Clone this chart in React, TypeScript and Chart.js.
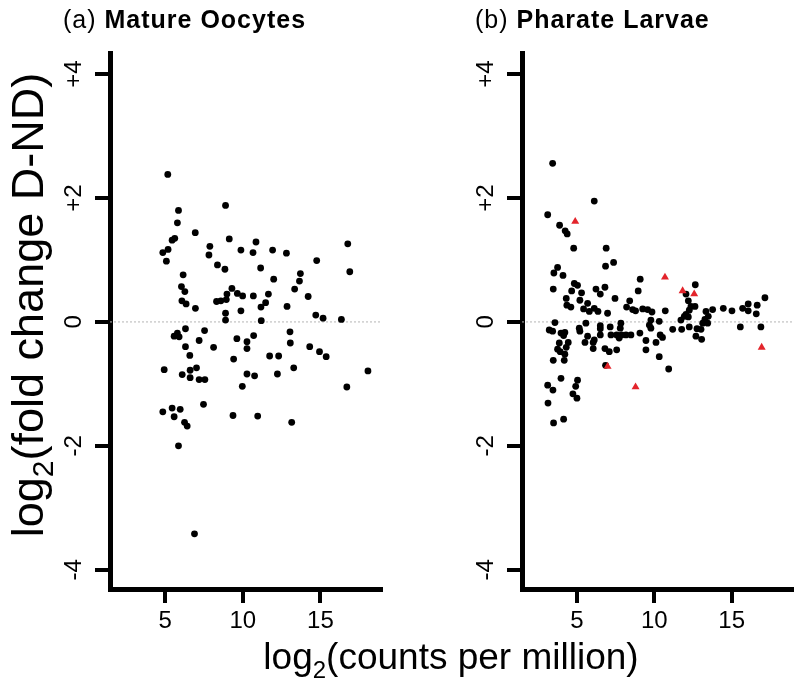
import React, { useEffect, useRef } from "react";
import { Chart, registerables } from "chart.js";

Chart.register(...registerables);

const FONT = "'Liberation Sans', Arial, Helvetica, sans-serif";

const xRange = [1.45, 18.9];
const yRange = [-4.31, 4.34];
const xTickValues = [5, 10, 15];
const yTickValues = [-4, -2, 0, 2, 4];
const yTickLabels = ["-4", "-2", "0", "+2", "+4"];

// (a) Mature Oocytes: [log2 CPM, log2 fold change]
const oocytePoints: [number, number][] = [
  [5.17, 2.38], [8.89, 1.88], [5.86, 1.8], [5.79, 1.6], [6.94, 1.44], [5.45, 1.32],
  [5.62, 1.35], [9.13, 1.34], [10.85, 1.29], [16.76, 1.26], [4.85, 1.12], [5.19, 1.17],
  [5.08, 0.98], [7.88, 1.22], [7.82, 1.08], [9.88, 1.16], [10.66, 1.12], [11.92, 1.16],
  [12.81, 1.11], [14.76, 0.99], [16.89, 0.81], [8.37, 0.92], [8.85, 0.85], [11.15, 0.87],
  [6.16, 0.76], [13.71, 0.78], [11.99, 0.69], [13.65, 0.66], [6.05, 0.57], [6.27, 0.49],
  [9.3, 0.54], [13.34, 0.53], [8.98, 0.45], [9.65, 0.46], [9.99, 0.42], [10.68, 0.42],
  [11.65, 0.45], [14.21, 0.41], [6.08, 0.34], [6.35, 0.29], [8.31, 0.33], [8.59, 0.34],
  [8.94, 0.36], [6.95, 0.22], [11.47, 0.31], [11.17, 0.24], [12.85, 0.25], [9.88, 0.18],
  [8.89, 0.14], [8.89, 0.03], [11.19, 0.02], [14.7, 0.11], [15.17, 0.06], [16.35, 0.04],
  [6.31, -0.11], [7.54, -0.14], [5.58, -0.23], [5.79, -0.18], [5.9, -0.24], [7.19, -0.3],
  [9.62, -0.27], [10.27, -0.32], [10.7, -0.22], [13.04, -0.16], [13.06, -0.34], [6.31, -0.4],
  [8.12, -0.41], [10.27, -0.43], [14.31, -0.4], [14.94, -0.48], [15.37, -0.56], [6.59, -0.54],
  [11.73, -0.55], [12.31, -0.55], [9.41, -0.6], [4.94, -0.77], [6.61, -0.78], [7.02, -0.74],
  [6.1, -0.85], [6.61, -0.9], [7.19, -0.93], [7.56, -0.93], [10.27, -0.84], [10.76, -0.87],
  [12.23, -0.84], [13.28, -0.74], [18.06, -0.79], [9.97, -1.04], [16.7, -1.05], [7.47, -1.33],
  [4.85, -1.45], [5.45, -1.39], [5.97, -1.41], [5.58, -1.53], [6.25, -1.62], [6.42, -1.68],
  [9.37, -1.51], [10.96, -1.52], [13.15, -1.62], [5.86, -2.0], [6.89, -3.42],
];

// (b) Pharate Larvae: black points
const larvaePoints: [number, number][] = [
  [3.43, 2.56], [6.12, 1.95], [3.11, 1.73], [3.88, 1.56], [4.24, 1.47], [4.37, 1.42],
  [4.79, 1.19], [6.89, 1.19], [6.85, 0.9], [3.75, 0.88], [3.51, 0.79], [4.1, 0.75],
  [3.47, 0.53], [4.83, 0.62], [5.04, 0.59], [4.66, 0.5], [5.3, 0.47], [6.23, 0.53],
  [6.51, 0.45], [6.81, 0.56], [4.31, 0.38], [5.19, 0.35], [5.69, 0.3], [4.35, 0.27],
  [4.61, 0.24], [5.43, 0.21], [5.8, 0.17], [6.12, 0.22], [6.36, 0.17], [6.98, 0.14],
  [3.58, -0.01], [5.58, -0.02], [3.21, -0.13], [3.43, -0.15], [3.97, -0.18], [4.22, -0.17],
  [4.14, -0.22], [5.15, -0.1], [5.19, -0.15], [5.69, -0.23], [6.51, -0.06], [6.51, -0.21],
  [6.12, -0.29], [6.05, -0.33], [5.52, -0.33], [6.05, -0.43], [6.81, -0.43], [7.09, -0.48],
  [4.44, -0.33], [3.86, -0.34], [3.75, -0.44], [4.31, -0.41], [3.92, -0.48], [4.22, -0.52],
  [4.18, -0.62], [3.47, -0.62], [6.85, -0.7], [3.97, -0.91], [3.11, -1.02], [3.45, -1.1],
  [5.04, -0.94], [4.92, -1.04], [4.74, -1.16], [5.0, -1.23], [3.13, -1.31], [3.49, -1.63],
  [4.14, -1.57], [6.51, -0.11],
  [7.37, 0.96], [9.09, 0.69], [8.96, 0.5], [12.65, 0.6], [12.05, 0.45], [12.2, 0.34],
  [7.46, 0.38], [8.41, 0.34], [8.21, 0.24], [8.6, 0.2], [8.79, 0.18], [9.25, 0.21],
  [9.57, 0.2], [9.85, 0.16], [10.71, 0.18], [12.37, 0.25], [12.63, 0.25], [12.26, 0.19],
  [12.05, 0.12], [11.94, 0.09], [11.72, 0.03], [12.2, 0.08], [13.34, 0.17], [13.49, 0.09],
  [13.77, 0.2], [13.27, 0.04], [13.13, -0.02], [13.45, -0.02], [14.46, 0.22], [15.02, 0.18],
  [15.71, 0.22], [16.07, 0.29], [16.07, 0.18], [16.65, 0.27], [16.59, 0.13], [17.15, 0.39],
  [15.56, -0.08], [16.89, -0.08], [11.19, -0.12], [11.77, -0.12], [12.26, -0.08], [12.76, -0.11],
  [13.02, -0.12], [12.69, -0.23], [13.06, -0.28], [10.32, 0.01], [9.78, 0.03], [9.68, -0.05],
  [9.78, -0.1], [9.07, -0.18], [10.38, -0.21], [10.53, -0.25], [9.46, -0.3], [10.11, -0.33],
  [9.46, -0.45], [10.32, -0.56], [10.93, -0.76], [7.84, -0.02], [7.8, -0.1], [7.15, -0.08],
  [7.2, -0.21], [7.57, -0.21], [7.89, -0.21], [8.17, -0.21], [8.49, -0.21], [7.73, -0.26],
  [7.57, -0.45],
];

// (b) Pharate Larvae: highlighted (red triangles)
const larvaeHighlighted: [number, number][] = [
  [4.89, 1.62], [6.98, -0.72], [10.69, 0.72], [11.83, 0.5], [12.58, 0.45], [8.79, -1.05], [16.94, -0.41],
];

type PanelProps = {
  tag: string;
  name: string;
  points: [number, number][];
  highlighted: [number, number][];
  left: number;
  axisLeft: number;
  padRight: number;
  showYTitle: boolean;
};

function Panel({ tag, name, points, highlighted, left, axisLeft, padRight, showYTitle }: PanelProps) {
  const ref = useRef<HTMLCanvasElement>(null);

  useEffect(() => {
    const canvas = ref.current;
    if (!canvas) return;

    const textPlugin = {
      id: "panelText",
      afterDraw(chart: any) {
        const { ctx, chartArea, scales } = chart;
        const ys = scales.y;
        ctx.save();
        ctx.fillStyle = "#000";
        // rotated y tick labels
        ctx.font = `24px ${FONT}`;
        yTickValues.forEach((v, i) => {
          const py = ys.getPixelForValue(v);
          ctx.save();
          ctx.translate(chartArea.left - 29, py);
          ctx.rotate(-Math.PI / 2);
          ctx.textAlign = "center";
          ctx.textBaseline = "alphabetic";
          ctx.fillText(yTickLabels[i], 0, 0);
          ctx.restore();
        });
        // panel title
        ctx.textAlign = "left";
        ctx.textBaseline = "alphabetic";
        try {
          (ctx as any).letterSpacing = "1px";
        } catch (e) {}
        const tx = chartArea.left - 47;
        ctx.font = `25px ${FONT}`;
        const pre = tag + " ";
        ctx.fillText(pre, tx, 28);
        const w = ctx.measureText(pre).width;
        ctx.font = `bold 25px ${FONT}`;
        ctx.fillText(name, tx + w, 28);
        try {
          (ctx as any).letterSpacing = "0px";
        } catch (e) {}
        // y axis title
        if (showYTitle) {
          const big = `45px ${FONT}`;
          const small = `30px ${FONT}`;
          const a = "log";
          const b = "2";
          const c = "(fold change D-ND)";
          ctx.font = big;
          const wa = ctx.measureText(a).width;
          const wc = ctx.measureText(c).width;
          ctx.font = small;
          const wb = ctx.measureText(b).width;
          const total = wa + wb + wc;
          ctx.save();
          ctx.translate(43, 305);
          ctx.rotate(-Math.PI / 2);
          let x0 = -total / 2;
          ctx.font = big;
          ctx.fillText(a, x0, 0);
          x0 += wa;
          ctx.font = small;
          ctx.fillText(b, x0, 10);
          x0 += wb;
          ctx.font = big;
          ctx.fillText(c, x0, 0);
          ctx.restore();
        }
        ctx.restore();
      },
    };

    const chart = new Chart(canvas, {
      type: "scatter",
      data: {
        datasets: [
          {
            label: "highlighted",
            data: highlighted.map(([x, y]) => ({ x, y })),
            pointStyle: "triangle",
            pointRadius: 4.6,
            backgroundColor: "#e3242b",
            borderWidth: 0,
            order: 1,
          },
          {
            label: "genes",
            data: points.map(([x, y]) => ({ x, y })),
            pointStyle: "circle",
            pointRadius: 3.4,
            backgroundColor: "#000000",
            borderWidth: 0,
            order: 2,
          },
          {
            type: "line",
            label: "zero",
            data: [
              { x: xRange[0], y: 0 },
              { x: xRange[1], y: 0 },
            ],
            borderColor: "#b4b4b4",
            borderWidth: 1,
            borderDash: [2, 2],
            pointRadius: 0,
            order: 3,
          } as any,
        ],
      },
      options: {
        responsive: false,
        animation: false,
        devicePixelRatio: 1,
        events: [],
        layout: { padding: { top: 53, right: padRight, left: 0, bottom: 0 } },
        plugins: {
          legend: { display: false },
          tooltip: { enabled: false },
          title: { display: false },
        },
        scales: {
          x: {
            type: "linear",
            min: xRange[0],
            max: xRange[1],
            afterBuildTicks: (s: any) => {
              s.ticks = xTickValues.map((v) => ({ value: v }));
            },
            afterFit: (s: any) => {
              s.height = 106;
            },
            grid: {
              drawOnChartArea: false,
              color: "#000",
              tickColor: "#000",
              tickLength: 14,
              lineWidth: 4,
              tickWidth: 4,
            },
            border: { display: true, color: "#000", width: 5 },
            ticks: {
              color: "#000",
              font: { family: FONT, size: 24 },
              padding: 4,
              maxRotation: 0,
              autoSkip: false,
            },
          },
          y: {
            type: "linear",
            min: yRange[0],
            max: yRange[1],
            afterBuildTicks: (s: any) => {
              s.ticks = yTickValues.map((v) => ({ value: v }));
            },
            afterFit: (s: any) => {
              s.width = axisLeft;
            },
            grid: {
              drawOnChartArea: false,
              color: "#000",
              tickColor: "#000",
              tickLength: 15,
              lineWidth: 4,
              tickWidth: 4,
            },
            border: { display: true, color: "#000", width: 5 },
            ticks: { display: false },
          },
        },
      } as any,
      plugins: [textPlugin],
    });

    return () => chart.destroy();
  }, []);

  return (
    <canvas
      ref={ref}
      width={400}
      height={695}
      style={{ position: "absolute", left, top: 0, width: 400, height: 695 }}
    />
  );
}

export default function App() {
  return (
    <div
      style={{
        position: "absolute",
        left: 0,
        top: 0,
        width: 800,
        height: 695,
        background: "#fff",
        overflow: "hidden",
      }}
    >
      <Panel
        tag="(a)"
        name="Mature Oocytes"
        points={oocytePoints}
        highlighted={[]}
        left={0}
        axisLeft={110}
        padRight={19}
        showYTitle={true}
      />
      <Panel
        tag="(b)"
        name="Pharate Larvae"
        points={larvaePoints}
        highlighted={larvaeHighlighted}
        left={400}
        axisLeft={122}
        padRight={8}
        showYTitle={false}
      />
      <div
        style={{
          position: "absolute",
          left: 0,
          width: 902,
          top: 638,
          textAlign: "center",
          fontFamily: FONT,
          fontSize: 37,
          lineHeight: "37px",
          whiteSpace: "nowrap",
          color: "#000",
        }}
      >
        log
        <span style={{ fontSize: 24, position: "relative", top: 9 }}>2</span>
        (counts per million)
      </div>
    </div>
  );
}
